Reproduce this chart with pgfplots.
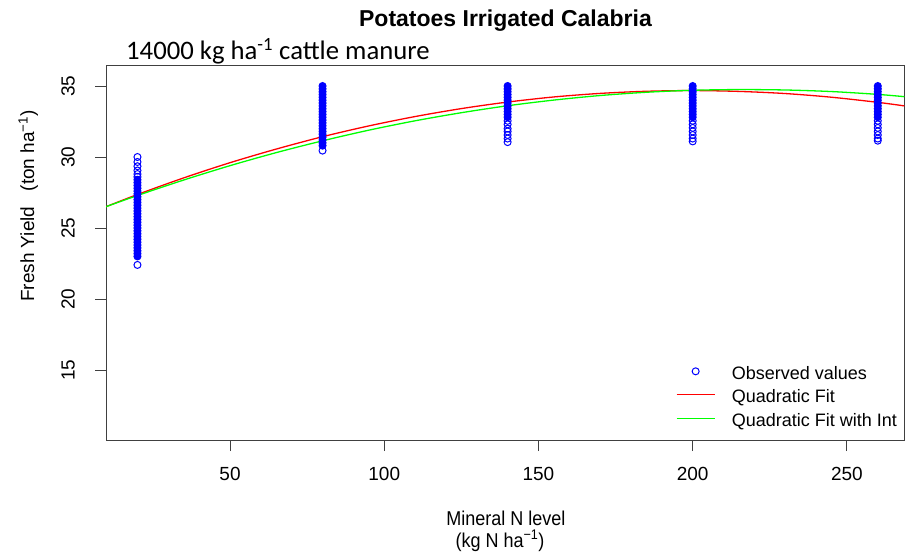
\documentclass[border=0pt]{standalone}
\usepackage{fontspec}
\setmainfont{Liberation Sans}
\newfontfamily\calibri{Carlito}
\newfontfamily\narrow{Liberation Sans}[FakeStretch=0.9]
\usepackage{pgfplots}
\pgfplotsset{compat=1.18}
\pgfplotstableread{
x y
20 30.0
20 29.65
20 29.35
20 29.05
20 28.8
20 28.6
20 22.4
80 30.45
140 32.55
140 32.3
140 32.0
140 31.8
140 31.55
140 31.3
140 31.05
200 32.55
200 32.3
200 32.05
200 31.8
200 31.55
200 31.3
200 31.1
260 32.55
260 32.3
260 32.05
260 31.8
260 31.55
260 31.3
260 31.15
}\sparse
\pgfplotstableread{
x y
20 28.4
20 28.2
20 28.0
20 27.8
20 27.6
20 27.4
20 27.2
20 27.0
20 26.8
20 26.6
20 26.4
20 26.2
20 26.0
20 25.8
20 25.6
20 25.4
20 25.2
20 25.0
20 24.8
20 24.6
20 24.4
20 24.2
20 24.0
20 23.8
20 23.6
20 23.4
20 23.2
20 23.0
80 35.0
80 34.8
80 34.6
80 34.4
80 34.2
80 34.0
80 33.8
80 33.6
80 33.4
80 33.2
80 33.0
80 32.8
80 32.6
80 32.4
80 32.2
80 32.0
80 31.8
80 31.6
80 31.4
80 31.2
80 31.0
80 30.8
140 35.0
140 34.8
140 34.6
140 34.4
140 34.2
140 34.0
140 33.8
140 33.6
140 33.4
140 33.2
140 33.0
140 32.8
200 35.0
200 34.8
200 34.6
200 34.4
200 34.2
200 34.0
200 33.8
200 33.6
200 33.4
200 33.2
200 33.0
200 32.8
260 35.0
260 34.8
260 34.6
260 34.4
260 34.2
260 34.0
260 33.8
260 33.6
260 33.4
260 33.2
260 33.0
260 32.8
}\dense
\begin{document}
\begin{tikzpicture}[x=1pt,y=1pt]
\useasboundingbox (0,0) rectangle (912,552);
\begin{axis}[
  at={(106pt,112pt)}, anchor=south west,
  scale only axis, width=798.3pt, height=375pt,
  xmin=9.8, xmax=268.6, ymin=10.07, ymax=36.48,
  xtick={50,100,150,200,250}, ytick={15,20,25,30,35},
  tick align=outside, xtick pos=left, ytick pos=left,
  major tick length=11pt,
  axis line style={black!75, line width=0.9pt},
  every tick/.style={black!75, line width=0.9pt},
  /pgf/number format/assume math mode=true,
  tick label style={font=\fontsize{19}{19}\selectfont, inner sep=0pt},
  xticklabel style={anchor=base, yshift=-29pt},
  yticklabel={\rotatebox{90}{\pgfmathprintnumber{\tick}}},
  yticklabel style={anchor=east, xshift=-20pt},
  clip=true,
  legend style={at={(0.714,0.2045)}, anchor=north west, draw=none, fill=none,
    inner sep=0pt, outer sep=0pt, row sep=7.5pt, column sep=16.5pt,
    font=\fontsize{18}{18}\selectfont,
    nodes={inner sep=0pt, text height=16pt, text depth=0pt}},
  legend cell align=left,
  legend image code/.code={\draw[mark repeat=2,mark phase=2,#1] plot coordinates {(0pt,0pt) (19pt,0pt) (38pt,0pt)};},
]
\addplot[only marks, mark=o, color=blue, mark size=3.5pt, mark options={line width=1pt}] table[x=x,y=y] {\sparse};
\addlegendentry{Observed values}
\addplot[only marks, mark=*, color=blue, fill=blue, mark size=3.5pt, mark options={line width=1pt}, forget plot] table[x=x,y=y] {\dense};
\addplot[red, line width=1.3pt, smooth] coordinates {
(9.8,26.50) (20,27.36) (35,28.53) (50,29.60) (65,30.56) (80,31.43) (95,32.19)
(110,32.85) (125,33.41) (140,33.87) (155,34.23) (170,34.48) (185,34.63)
(200,34.68) (215,34.62) (230,34.47) (245,34.21) (260,33.85) (268.6,33.60)};
\addlegendentry{Quadratic Fit}
\addplot[green, line width=1.3pt, smooth] coordinates {
(9.8,26.50) (20,27.29) (35,28.38) (50,29.39) (65,30.31) (80,31.14) (95,31.89)
(110,32.55) (125,33.12) (140,33.61) (155,34.01) (170,34.33) (185,34.56)
(200,34.70) (215,34.75) (230,34.72) (245,34.61) (260,34.41) (268.6,34.25)};
\addlegendentry{Quadratic Fit with Int}
\end{axis}
\node[anchor=base, inner sep=0pt, font=\bfseries\fontsize{23}{23}\selectfont] at (505.5,525.3) {Potatoes Irrigated Calabria};
\node[anchor=base west, inner sep=0pt, font=\calibri\fontsize{26.7}{26.7}\selectfont] at (126,492) {14000 kg ha\textsuperscript{-1} cattle manure};
\node[rotate=90, anchor=base, inner sep=0pt, font=\fontsize{19}{19}\selectfont] at (34,346) {Fresh Yield\hspace{10pt} (ton ha\textsuperscript{−1})};
\node[anchor=base, inner sep=0pt, font=\narrow\fontsize{20}{20}\selectfont] at (506,26.5) {Mineral N level};
\node[anchor=base, inner sep=0pt, font=\narrow\fontsize{20}{20}\selectfont] at (500,4.5) {(kg N ha\textsuperscript{−1})};
\end{tikzpicture}
\end{document}
